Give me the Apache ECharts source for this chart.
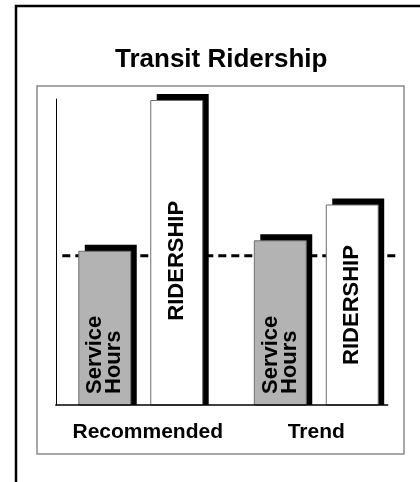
<!DOCTYPE html>
<html>
<head>
<meta charset="utf-8">
<title>Transit Ridership</title>
<script src="https://cdn.jsdelivr.net/npm/echarts@6/dist/echarts.min.js"></script>
<style>
  html, body { margin: 0; padding: 0; background: #fff; }
  #chart { width: 420px; height: 482px; }
</style>
</head>
<body>
<div id="chart"></div>
<script>
// values are indexed so that the dashed reference line = 100
const categories = ['Recommended', 'Trend']
const serviceHours = [103, 110]
const ridership = [204, 134]
const referenceLevel = 100
const serviceLabel = 'Service\nHours'
const ridershipLabel = 'RIDERSHIP'

const FONT = '"Liberation Sans", Arial, Helvetica, sans-serif'

const chart = echarts.init(document.getElementById('chart'), null, { renderer: 'canvas' })

// one bar + its offset black block + rotated label
const makeBarRenderer = (kind) => (params, api) => {
  const cat = api.value(0)
  const val = api.value(1)
  const top = api.coord([cat, val])
  const base = api.coord([cat, 0])
  const band = api.size([1, 0])[0]
  const w = band * 0.296
  const cx = top[0] + (kind === 'service' ? -0.205 : 0.205) * band
  const left = cx - w / 2
  const children = [
    {
      type: 'rect',
      shape: { x: left + 6, y: top[1] - 6.5, width: w, height: base[1] - top[1] + 6.5 },
      style: { fill: '#000' }
    },
    {
      type: 'rect',
      shape: { x: left, y: top[1], width: w, height: base[1] - top[1] },
      style: { fill: kind === 'service' ? '#b3b3b3' : '#fff', stroke: '#6e6e6e', lineWidth: 1 }
    }
  ]
  if (kind === 'service') {
    children.push({
      type: 'text',
      x: cx,
      y: base[1] - 11,
      rotation: Math.PI / 2,
      style: {
        text: serviceLabel,
        font: 'bold 22px ' + FONT,
        lineHeight: 19,
        fill: '#000',
        align: 'left',
        verticalAlign: 'middle'
      }
    })
  } else {
    children.push({
      type: 'text',
      x: cx,
      y: (top[1] + base[1]) / 2 + (cat === 0 ? 8 : 0),
      rotation: Math.PI / 2,
      style: {
        text: ridershipLabel,
        font: 'bold 22px ' + FONT,
        fill: '#000',
        align: 'center',
        verticalAlign: 'middle'
      }
    })
  }
  return { type: 'group', children }
}

const option = {
  animation: false,
  backgroundColor: '#fff',
  title: {
    text: 'Transit Ridership',
    left: 110,
    top: 42,
    textStyle: { fontFamily: FONT, fontSize: 26, fontWeight: 'bold', color: '#000' }
  },
  graphic: [
    {
      type: 'rect',
      shape: { x: 16, y: 6, width: 440, height: 520 },
      style: { fill: 'none', stroke: '#000', lineWidth: 2.5 },
      silent: true
    },
    {
      type: 'rect',
      shape: { x: 37, y: 86, width: 367, height: 368 },
      style: { fill: 'none', stroke: '#8a8a8a', lineWidth: 1.5 },
      silent: true
    }
  ],
  grid: { left: 53, right: 16, top: 99, bottom: 77 },
  xAxis: {
    type: 'category',
    data: categories,
    axisLine: { show: false },
    axisTick: { show: false },
    splitLine: { show: false },
    axisLabel: {
      interval: 0,
      hideOverlap: false,
      margin: 17,
      color: '#000',
      fontFamily: FONT,
      fontSize: 21,
      fontWeight: 'bold',
      formatter: (v, i) => (i === 0 ? '{a|' + v + '}' : v),
      rich: {
        a: { padding: [0, 0, 0, 14], fontFamily: FONT, fontSize: 21, fontWeight: 'bold', color: '#000' }
      }
    }
  },
  yAxis: {
    type: 'value',
    min: 0,
    max: 205,
    offset: -3,
    axisLine: { show: true, lineStyle: { color: '#000', width: 1 } },
    axisTick: { show: false },
    axisLabel: { show: false },
    splitLine: { show: false }
  },
  series: [
    {
      name: 'reference',
      type: 'custom',
      data: [[0, referenceLevel]],
      encode: { x: 0, y: 1 },
      renderItem: (params, api) => {
        const band = api.size([1, 0])[0]
        const a = api.coord([0, api.value(1)])
        const b = api.coord([1, api.value(1)])
        return {
          type: 'line',
          shape: { x1: a[0] - 0.447 * band, y1: a[1], x2: b[0] + 0.46 * band, y2: b[1] },
          style: { stroke: '#000', lineWidth: 2.8, lineDash: [8, 5] }
        }
      }
    },
    {
      name: 'Service Hours',
      type: 'custom',
      data: serviceHours.map((v, i) => [i, v]),
      encode: { x: 0, y: 1 },
      renderItem: makeBarRenderer('service')
    },
    {
      name: 'Ridership',
      type: 'custom',
      data: ridership.map((v, i) => [i, v]),
      encode: { x: 0, y: 1 },
      renderItem: makeBarRenderer('ridership')
    },
    {
      name: 'baseline',
      type: 'custom',
      data: [[0, 0]],
      encode: { x: 0, y: 1 },
      renderItem: (params, api) => {
        const band = api.size([1, 0])[0]
        const a = api.coord([0, 0])
        const b = api.coord([1, 0])
        return {
          type: 'line',
          shape: { x1: a[0] - 0.487 * band, y1: a[1], x2: b[0] + 0.41 * band, y2: b[1] },
          style: { stroke: '#000', lineWidth: 1.5 }
        }
      }
    }
  ]
}

chart.setOption(option)
window.addEventListener('resize', () => chart.resize())
</script>
</body>
</html>
